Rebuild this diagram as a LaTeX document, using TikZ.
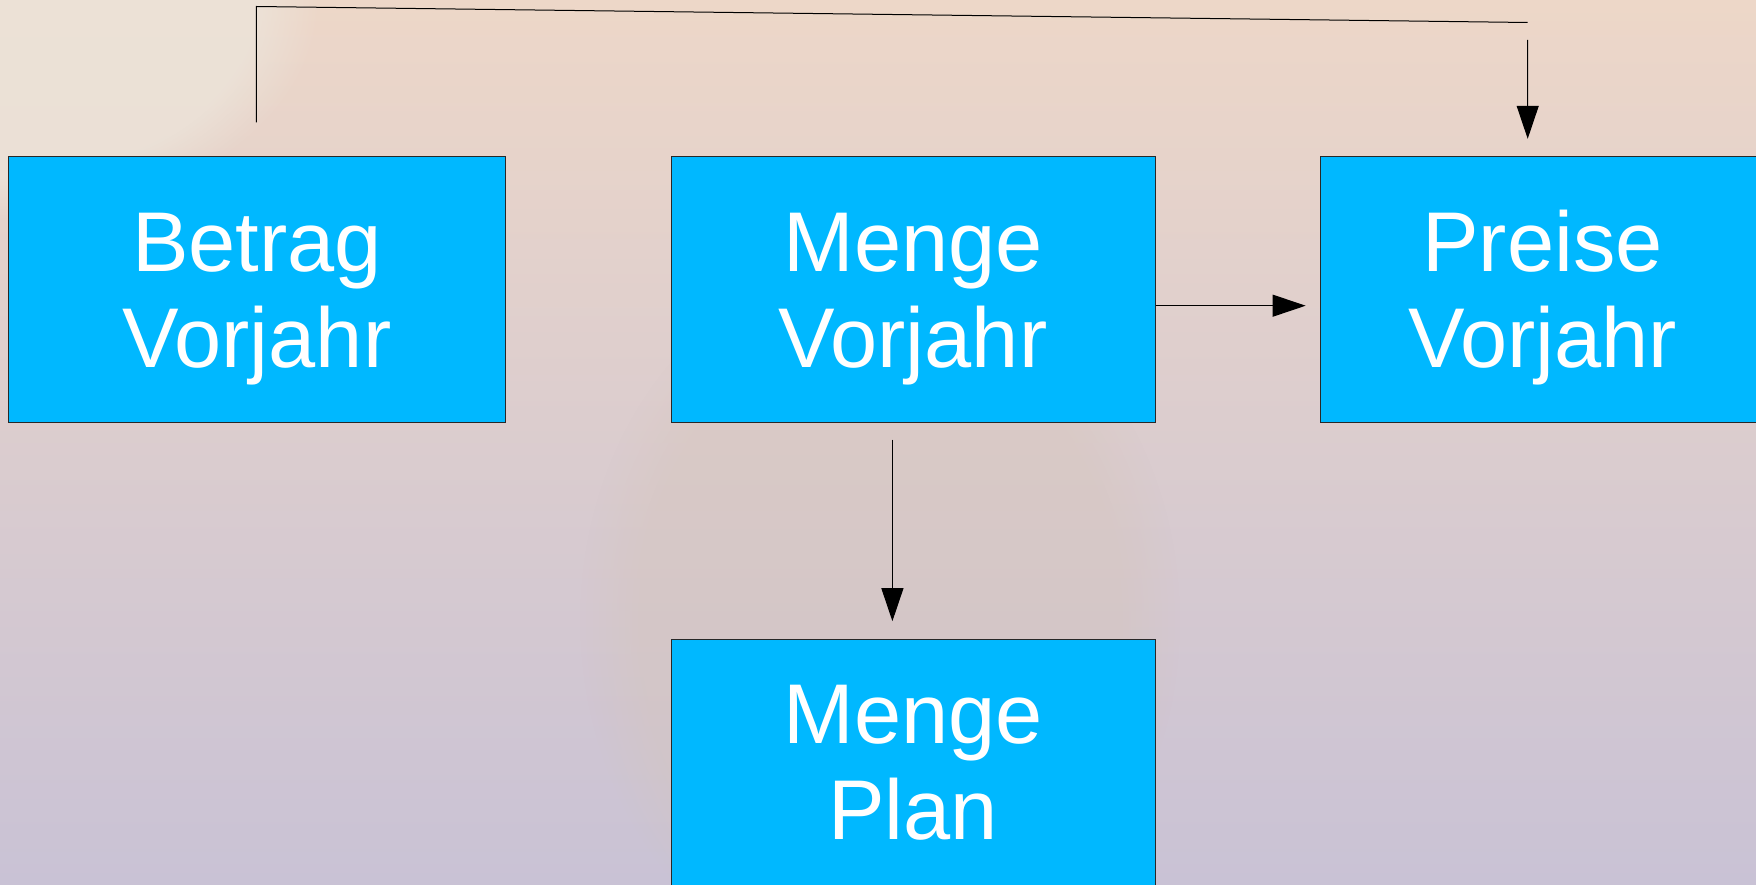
\documentclass[tikz,border=0pt]{standalone}
\usepackage{fontspec}
\setmainfont{Liberation Sans}
\usetikzlibrary{arrows.meta,fadings}
\definecolor{boxfill}{RGB}{0,184,255}
\definecolor{boxline}{RGB}{40,40,40}
\definecolor{bgtop}{RGB}{237,215,200}
\definecolor{bgmid}{RGB}{220,187,200}
\definecolor{bgbot}{RGB}{201,194,213}
\definecolor{bgbeige}{RGB}{214,197,186}
\definecolor{bglight}{RGB}{236,228,218}
\newcommand{\mytopstrut}{\rule{0pt}{77.5pt}}
\tikzset{
  stepbox/.style={draw=boxline, line width=1pt, fill=boxfill, text=white,
    align=center, inner sep=0pt,
    font=\fontsize{84.8}{96}\selectfont},
  conn/.style={draw=black, line width=1pt},
  arr/.style={conn, -{Triangle[length=33pt,width=22pt]}}
}
\begin{document}
\begin{tikzpicture}[x=1pt,y=-1pt]
\useasboundingbox (0,0) rectangle (1756,885);
\clip (0,0) rectangle (1756,885);
% background
\shade[top color=bgtop, middle color=bgmid, bottom color=bgbot] (0,0) rectangle (1756,885);
\fill[bgbeige, opacity=0.4, path fading=circle with fuzzy edge 20 percent] (880,620) ellipse (300 and 360);
\fill[bglight, opacity=0.8, path fading=circle with fuzzy edge 20 percent] (0,0) ellipse (320 and 220);
% boxes
\node[stepbox, minimum width=497pt, minimum height=266pt] (betrag) at (257,289.5) {\mytopstrut Betrag\\Vorjahr};
\node[stepbox, minimum width=484pt, minimum height=266pt] (menge) at (913,289.5) {\mytopstrut Menge\\Vorjahr};
\node[stepbox, minimum width=445pt, minimum height=266pt] (preise) at (1542.6,289.5) {\mytopstrut Preise\\Vorjahr};
\node[stepbox, minimum width=484pt, minimum height=247pt] (plan) at (913,762.5) {Menge\\Plan};
% connectors
\coordinate (b1) at ([xshift=-0.6pt,yshift=33.5pt]betrag.north);
\coordinate (b2) at (256.4,6.5);
\coordinate (b3) at (1527.7,22.5);
\coordinate (p1) at (1527.7,40);
\draw[conn] (b1) -- (b2) -- (b3);
\draw[arr] (p1) -- ([xshift=-14.9pt,yshift=17.2pt]preise.north);
\draw[arr] ([yshift=-16.2pt]menge.east) -- ([xshift=-14pt,yshift=-16.2pt]preise.west);
\draw[arr] ([xshift=-20.6pt,yshift=-16.5pt]menge.south) -- ([xshift=-20.6pt,yshift=17.3pt]plan.north);
\end{tikzpicture}
\end{document}
